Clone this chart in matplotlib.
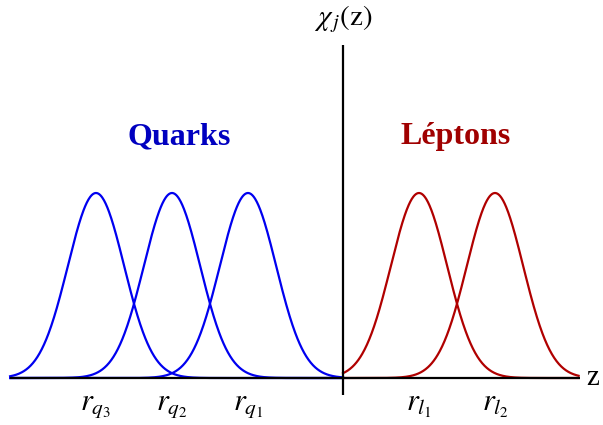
import numpy as np
import matplotlib.pyplot as plt

plt.rcParams['mathtext.fontset'] = 'stix'
plt.rcParams['font.family'] = 'Liberation Serif'

# posiciones de los perfiles en la dimensión extra
quark_centers = [-3.25, -2.25, -1.25]
quark_labels = [r'$r_{q_3}$', r'$r_{q_2}$', r'$r_{q_1}$']
lepton_centers = [1.0, 2.0]
lepton_labels = [r'$r_{l_1}$', r'$r_{l_2}$']
sigma = 0.37
amp = 1.0

blue = '#0000f0'
red = '#b00000'

fig = plt.figure(figsize=(6.03, 4.25), dpi=100)
ax = fig.add_axes([0, 0, 1, 1])
ax.set_xlim(-343 / 76, 260 / 76)
ax.set_ylim(-47 / 185, 378 / 185)
ax.axis('off')

zq = np.linspace(-4.38, 0.0, 600)
zl = np.linspace(0.0, 3.1, 600)
for c in quark_centers:
    ax.plot(zq, amp * np.exp(-(zq - c) ** 2 / (2 * sigma ** 2)), color=blue, lw=1.6)
for c in lepton_centers:
    ax.plot(zl, amp * np.exp(-(zl - c) ** 2 / (2 * sigma ** 2)), color=red, lw=1.6)

# ejes
ax.plot([-4.38, 3.12], [0, 0], color='black', lw=1.6, solid_capstyle='butt')
ax.plot([0, 0], [-0.092, 1.8], color='black', lw=1.6, solid_capstyle='butt')

ax.text(3.2, 0.0, 'z', fontsize=21, ha='left', va='center')
ax.text(0.0, 1.94, r'$\chi_{\,j}\mathrm{(z)}$', fontsize=21, ha='center', va='center')

for c, lab in zip(quark_centers + lepton_centers, quark_labels + lepton_labels):
    ax.text(c, -0.15, lab, fontsize=22, ha='center', va='center')

ax.text(-2.15, 1.305, 'Quarks', fontsize=23, fontweight='bold', color='#0000c0',
        ha='center', va='center')
ax.text(1.48, 1.305, 'Léptons', fontsize=23, fontweight='bold', color='#a00000',
        ha='center', va='center')

fig.savefig('out.png', dpi=100)
